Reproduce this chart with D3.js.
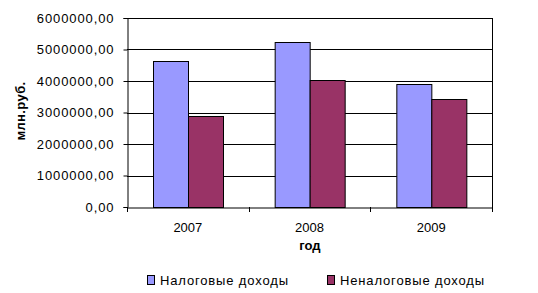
<!DOCTYPE html>
<html>
<head>
<meta charset="utf-8">
<script src="https://cdn.jsdelivr.net/npm/d3@7"></script>
<style>
  body { margin: 0; background: #fff; }
  text { font-family: Arial, "Liberation Sans", sans-serif; }
</style>
</head>
<body>
<div id="chart"></div>
<script>
// данные
const years = ["2007", "2008", "2009"];
const seriesNames = ["Налоговые доходы", "Неналоговые доходы"];
const nalogovye = [4635000, 5238000, 3892000];
const nenalogovye = [2889000, 4019000, 3429000];
const yTicks = [0, 1000000, 2000000, 3000000, 4000000, 5000000, 6000000];
const colors = ["#9999FF", "#993366"];

const W = 538, H = 293;
const margin = { top: 18, right: 46, bottom: 86, left: 127 };
const width = W - margin.left - margin.right;
const height = H - margin.top - margin.bottom;

const svg = d3.select("#chart").append("svg")
  .attr("width", W).attr("height", H);

const g = svg.append("g").attr("transform", `translate(${margin.left},${margin.top})`);

const x = d3.scaleBand().domain(years).range([0, width]).paddingInner(0).paddingOuter(0);
const inner = 70 / x.step();
const xs = d3.scaleBand().domain(seriesNames)
  .range([x.bandwidth() * (1 - inner) / 2, x.bandwidth() * (1 + inner) / 2]);
const y = d3.scaleLinear().domain([0, 6000000]).range([height, 0]);

const fmt = v => d3.format(".2f")(v).replace(".", ",");

// сетка
g.selectAll(".grid").data(yTicks.slice(1)).enter().append("line")
  .attr("x1", 0).attr("x2", width)
  .attr("y1", d => Math.round(y(d)) + 0.5).attr("y2", d => Math.round(y(d)) + 0.5)
  .attr("stroke", "#000");

// рамка справа
g.append("line").attr("x1", width + 0.5).attr("x2", width + 0.5)
  .attr("y1", 0).attr("y2", height).attr("stroke", "#000");

// столбцы
const data = years.map((yr, i) => ({ year: yr, values: [nalogovye[i], nenalogovye[i]] }));
const grp = g.selectAll(".grp").data(data).enter().append("g")
  .attr("transform", d => `translate(${x(d.year)},0)`);
grp.selectAll("rect").data(d => d.values.map((v, j) => ({ key: seriesNames[j], v, j })))
  .enter().append("rect")
  .attr("x", d => Math.round(xs(d.key)) + 0.5)
  .attr("y", d => Math.round(y(d.v)) + 0.5)
  .attr("width", xs.bandwidth())
  .attr("height", d => height - Math.round(y(d.v)))
  .attr("fill", d => colors[d.j])
  .attr("stroke", "#000").attr("stroke-width", 1);

// ось Y
const yAxis = g.append("g").attr("transform", "translate(0.5,0)")
  .call(d3.axisLeft(y).tickValues(yTicks).tickFormat(fmt).tickSize(4).tickPadding(9));
yAxis.select(".domain").attr("stroke", "#000");
yAxis.selectAll("text").attr("font-size", 13).attr("letter-spacing", "0.9px")
  .attr("font-family", "Arial, 'Liberation Sans', sans-serif").attr("fill", "#000");

// ось X
const xAxis = g.append("g").attr("transform", `translate(0,${height + 0.5})`)
  .call(d3.axisBottom(x).tickSize(0).tickPadding(15));
xAxis.select(".domain").attr("stroke", "#000").attr("stroke-width", 1);
xAxis.selectAll("text").attr("font-size", 13)
  .attr("font-family", "Arial, 'Liberation Sans', sans-serif").attr("fill", "#000");
// деления между категориями
g.selectAll(".xt").data(d3.range(years.length + 1)).enter().append("line")
  .attr("x1", d => Math.round(d * x.step()) + 0.5).attr("x2", d => Math.round(d * x.step()) + 0.5)
  .attr("y1", height).attr("y2", height + 5).attr("stroke", "#000");

// подписи осей
svg.append("text")
  .attr("transform", `translate(25,111) rotate(-90)`)
  .attr("text-anchor", "middle")
  .attr("font-size", 13).attr("font-weight", "bold").attr("letter-spacing", "0.4px")
  .text("млн.руб.");
svg.append("text")
  .attr("x", 310).attr("y", 250)
  .attr("text-anchor", "middle")
  .attr("font-size", 13).attr("font-weight", "bold")
  .text("год");

// легенда
const legX = [147, 327];
const leg = svg.selectAll(".leg").data(seriesNames).enter().append("g")
  .attr("transform", (d, i) => `translate(${legX[i]},275)`);
leg.append("rect").attr("x", 0.5).attr("y", 0.5).attr("width", 7).attr("height", 9)
  .attr("fill", (d, i) => colors[i]).attr("stroke", "#000");
leg.append("text").attr("x", 13).attr("y", 10).attr("font-size", 13)
  .attr("letter-spacing", "0.85px")
  .text(d => d);
</script>
</body>
</html>
